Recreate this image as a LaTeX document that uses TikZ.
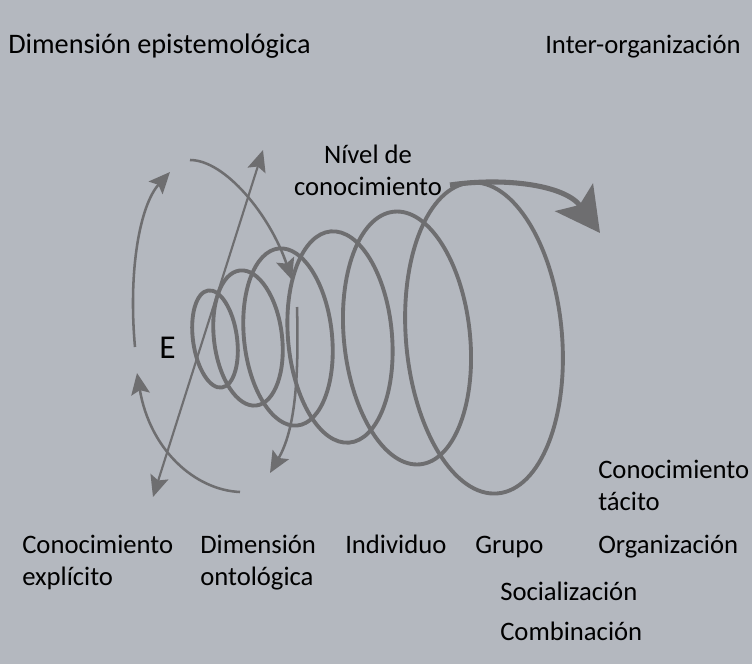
\documentclass[tikz,border=0pt]{standalone}
\usepackage{fontspec}
\setmainfont{Carlito}
\usetikzlibrary{arrows.meta}
\definecolor{bgGray}{RGB}{180,184,191}
\definecolor{inkGray}{RGB}{110,110,112}

\begin{document}
\begin{tikzpicture}[x=0.75pt,y=0.75pt,yscale=-1,xscale=1,
  loop/.style={draw=inkGray, line width=2.9pt},
  seci/.style={draw=inkGray, line width=1.9pt, -{Stealth[length=16pt,width=14pt,inset=3pt]}},
  lbl/.style={anchor=base west, inner sep=0pt, font=\fontsize{20}{24}\selectfont, align=left}]
%set diagram area: 752 x 664
\fill[bgGray] (0,0) rectangle (752,664);

%Shape: Ellipse
\draw[loop, rotate around={-8:(215,339)}] (215,339) ellipse [x radius=22, y radius=49];
%Shape: Ellipse
\draw[loop, rotate around={-7:(248,338)}] (248,338) ellipse [x radius=34, y radius=68];
%Shape: Ellipse
\draw[loop, rotate around={-6:(288,337)}] (288,337) ellipse [x radius=44, y radius=89];
%Shape: Ellipse
\draw[loop, rotate around={-5:(340,337)}] (340,337) ellipse [x radius=52, y radius=106];
%Shape: Ellipse
\draw[loop, rotate around={-6:(407,338)}] (407,338) ellipse [x radius=63, y radius=127];
%Shape: Ellipse
\draw[loop, rotate around={-5:(484,338)}] (484,338) ellipse [x radius=78, y radius=156];

%Curve Lines
\coordinate (spiralEnd) at (450,185);
\coordinate (spiralTip) at (600,233);
\draw[inkGray, line width=3.8pt, -{Stealth[length=33pt,width=35pt,inset=7pt]}] (spiralEnd) .. controls (505,177) and (565,185) .. (spiralTip);

%Curve Lines
\coordinate (leftLow) at (135,347);
\coordinate (leftHigh) at (170,172);
\draw[seci] (leftLow) .. controls (128,270) and (140,205) .. (leftHigh);
%Curve Lines
\coordinate (topStart) at (190,160);
\coordinate (topEnd) at (292,280);
\draw[seci] (topStart) .. controls (225,160) and (270,215) .. (topEnd);
%Curve Lines
\coordinate (rightStart) at (297,307);
\coordinate (rightEnd) at (270,473);
\draw[seci] (rightStart) .. controls (299,380) and (295,430) .. (rightEnd);
%Curve Lines
\coordinate (lowStart) at (240,492);
\coordinate (lowEnd) at (137,373);
\draw[seci] (lowStart) .. controls (195,490) and (150,450) .. (lowEnd);

%Straight Lines
\coordinate (axisLow) at (153,497);
\coordinate (axisHigh) at (263,150);
\draw[inkGray, line width=1.6pt, {Stealth[length=16pt,width=14pt,inset=3pt]}-{Stealth[length=16pt,width=14pt,inset=3pt]}] (axisLow) -- (axisHigh);

% Text Node
\draw (8,53) node (epist) [lbl, font=\fontsize{21.2}{24}\selectfont] {Dimensión epistemológica};
% Text Node
\draw (545,53) node (inter) [lbl] {Inter-organización};
% Text Node
\draw (368,195) node (nivel) [lbl, anchor=base, align=center] {Nível de\\conocimiento};
% Text Node
\draw (159,358) node (seciE) [lbl, font=\fontsize{25}{28}\selectfont] {E};
% Text Node
\draw (598,510) node (tacito) [lbl] {Conocimiento\\tácito};
% Text Node
\draw (22,585) node (explicito) [lbl] {Conocimiento\\explícito};
% Text Node
\draw (200,585) node (ontol) [lbl] {Dimensión\\ontológica};
% Text Node
\draw (345,553) node (indiv) [lbl] {Individuo};
% Text Node
\draw (475,553) node (grupo) [lbl] {Grupo};
% Text Node
\draw (598,553) node (organiz) [lbl] {Organización};
% Text Node
\draw (500,600) node (social) [lbl] {Socialización};
% Text Node
\draw (500,640) node (combin) [lbl] {Combinación};
\end{tikzpicture}
\end{document}
